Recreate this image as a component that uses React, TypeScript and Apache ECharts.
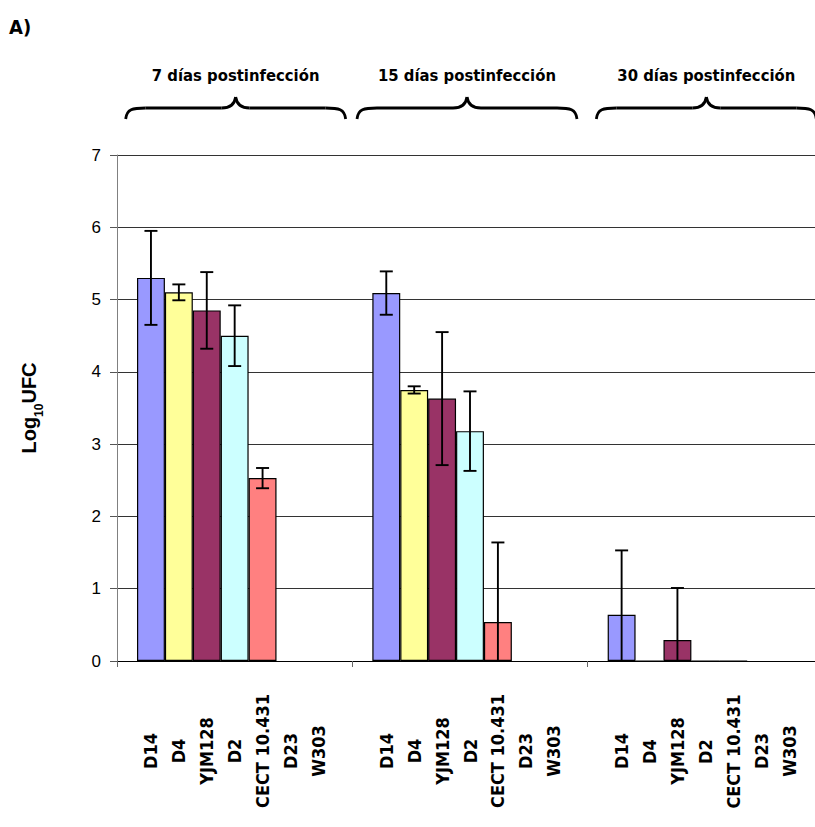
import React, { useEffect, useRef } from "react";
import * as echarts from "echarts";

const groups = ["7 días postinfección", "15 días postinfección", "30 días postinfección"];
const strains = ["D14", "D4", "YJM128", "D2", "CECT 10.431", "D23", "W303"];
const strainColors = ["#9999FF", "#FFFF99", "#993366", "#CCFFFF", "#FF8080", "#0066CC", "#CCCCFF"];

// Log10 UFC means per strain, one value per time group (null = no data)
const d14 = [5.3, 5.09, 0.64];
const d4 = [5.1, 3.75, 0];
const yjm128 = [4.85, 3.63, 0.29];
const d2 = [4.5, 3.18, 0];
const cect = [2.53, 0.54, 0];
const d23 = [null, null, null];
const w303 = [null, null, null];

// error bar half lengths
const d14Err = [0.65, 0.3, 0.89];
const d4Err = [0.11, 0.05, 0];
const yjm128Err = [0.53, 0.92, 0.72];
const d2Err = [0.42, 0.55, 0];
const cectErr = [0.14, 1.1, 0];
const d23Err = [0, 0, 0];
const w303Err = [0, 0, 0];

const values = [d14, d4, yjm128, d2, cect, d23, w303];
const errors = [d14Err, d4Err, yjm128Err, d2Err, cectErr, d23Err, w303Err];

const CAT_GAP = 0.17;
const LABEL_FONT = "'DejaVu Sans Condensed', 'DejaVu Sans', sans-serif";

export default function App() {
  const ref = useRef<HTMLDivElement>(null);

  useEffect(() => {
    if (!ref.current) return;
    const chart = echarts.init(ref.current, null, { renderer: "svg" });

    const barSeries = strains.map((name, s) => ({
      name,
      type: "bar",
      barGap: "0%",
      barCategoryGap: CAT_GAP * 100 + "%",
      itemStyle: { color: strainColors[s], borderColor: "#000", borderWidth: 1.2 },
      data: values[s].map((v) =>
        v === null
          ? { value: 0, itemStyle: { color: "transparent", borderWidth: 0 } }
          : v
      ),
      label: {
        show: true,
        position: "bottom",
        distance: 90,
        rotate: 90,
        align: "center",
        verticalAlign: "middle",
        formatter: () => name,
        fontFamily: LABEL_FONT,
        fontWeight: "bold",
        fontSize: 18,
        color: "#000",
      },
      z: 2,
    }));

    const errData: number[][] = [];
    values.forEach((arr, s) =>
      arr.forEach((v, g) => {
        if (v !== null && errors[s][g] > 0) errData.push([g, s, v, errors[s][g]]);
      })
    );

    const errSeries = {
      type: "custom",
      z: 5,
      encode: { x: 0, y: 2 },
      data: errData,
      renderItem: (params: any, api: any) => {
        const g = api.value(0);
        const s = api.value(1);
        const v = api.value(2);
        const e = api.value(3);
        const catW = api.size([1, 0])[0];
        const bw = (catW * (1 - CAT_GAP)) / strains.length;
        const x = api.coord([g, 0])[0] + (s - (strains.length - 1) / 2) * bw;
        const top = api.coord([g, v + e])[1];
        const low = v - e;
        const bot = api.coord([g, Math.max(0, low)])[1];
        const st = { stroke: "#000", lineWidth: 1.9 };
        const children: any[] = [
          { type: "line", shape: { x1: x, y1: top, x2: x, y2: bot }, style: st },
          { type: "line", shape: { x1: x - 6.5, y1: top, x2: x + 6.5, y2: top }, style: st },
        ];
        if (low >= 0)
          children.push({ type: "line", shape: { x1: x - 6.5, y1: bot, x2: x + 6.5, y2: bot }, style: st });
        return { type: "group", children };
      },
    };

    chart.setOption({
      animation: false,
      backgroundColor: "#fff",
      grid: { left: 117, top: 155, width: 706, height: 506, containLabel: false },
      xAxis: {
        type: "category",
        data: groups,
        axisLine: { lineStyle: { color: "#000", width: 1 } },
        axisTick: { show: true, length: 6, lineStyle: { color: "#666" } },
        axisLabel: { show: false },
        splitLine: { show: false },
      },
      yAxis: {
        type: "value",
        min: 0,
        max: 7,
        interval: 1,
        name: "{a|Log}{s|10}{a|UFC}",
        nameLocation: "middle",
        nameGap: 78,
        nameRotate: 90,
        nameTextStyle: {
          rich: {
            a: { fontFamily: "'Liberation Sans', Arial, sans-serif", fontWeight: "bold", fontSize: 20, color: "#000", verticalAlign: "bottom", lineHeight: 22 },
            s: { fontFamily: "'Liberation Sans', Arial, sans-serif", fontWeight: "bold", fontSize: 12, color: "#000", verticalAlign: "bottom", lineHeight: 12, padding: [0, 0, -6, 0] },
          },
        },
        axisLine: { show: true, lineStyle: { color: "#808080", width: 1 } },
        axisTick: { show: true, inside: false, length: 7, lineStyle: { color: "#555" } },
        axisLabel: { fontFamily: "'Liberation Sans', Arial, sans-serif", fontSize: 17, color: "#000", margin: 16 },
        splitLine: { show: true, lineStyle: { color: "#333", width: 1 } },
      },
      series: [...barSeries, errSeries],
    });

    const graphics: any[] = [
      {
        type: "text",
        x: 9,
        y: 27,
        style: { text: "A)", font: `bold 20px ${LABEL_FONT}`, fill: "#000", textAlign: "left", textVerticalAlign: "middle" },
      },
    ];
    const bst = { stroke: "#000", lineWidth: 2.8, fill: "none" };
    groups.forEach((gName, i) => {
      const cx = chart.convertToPixel({ gridIndex: 0 }, [i, 0])[0] + (i === 1 ? -3 : 1);
      const hw = 110;
      const yEnd = 119;
      const yFlat = 108;
      const yTip = 97;
      graphics.push(
        { type: "bezierCurve", shape: { x1: cx - hw, y1: yEnd, cpx1: cx - hw + 1, cpy1: yFlat + 1, cpx2: cx - hw + 7, cpy2: yFlat, x2: cx - hw + 20, y2: yFlat }, style: bst },
        { type: "line", shape: { x1: cx - hw + 20, y1: yFlat, x2: cx - 14, y2: yFlat }, style: bst },
        { type: "bezierCurve", shape: { x1: cx - 14, y1: yFlat, cpx1: cx - 5, cpy1: yFlat, cpx2: cx - 1, cpy2: yFlat - 4, x2: cx, y2: yTip }, style: bst },
        { type: "bezierCurve", shape: { x1: cx, y1: yTip, cpx1: cx + 1, cpy1: yFlat - 4, cpx2: cx + 5, cpy2: yFlat, x2: cx + 14, y2: yFlat }, style: bst },
        { type: "line", shape: { x1: cx + 14, y1: yFlat, x2: cx + hw - 20, y2: yFlat }, style: bst },
        { type: "bezierCurve", shape: { x1: cx + hw - 20, y1: yFlat, cpx1: cx + hw - 7, cpy1: yFlat, cpx2: cx + hw - 1, cpy2: yFlat + 1, x2: cx + hw, y2: yEnd }, style: bst },
        {
          type: "text",
          x: cx,
          y: 75,
          style: { text: gName, font: `bold 16.5px ${LABEL_FONT}`, fill: "#000", textAlign: "center", textVerticalAlign: "middle" },
        }
      );
    });
    chart.setOption({ graphic: graphics });

    return () => chart.dispose();
  }, []);

  return (
    <div style={{ position: "absolute", left: 0, top: 0, width: 815, height: 827, overflow: "hidden" }}>
      <div ref={ref} style={{ width: 850, height: 827 }} />
    </div>
  );
}
